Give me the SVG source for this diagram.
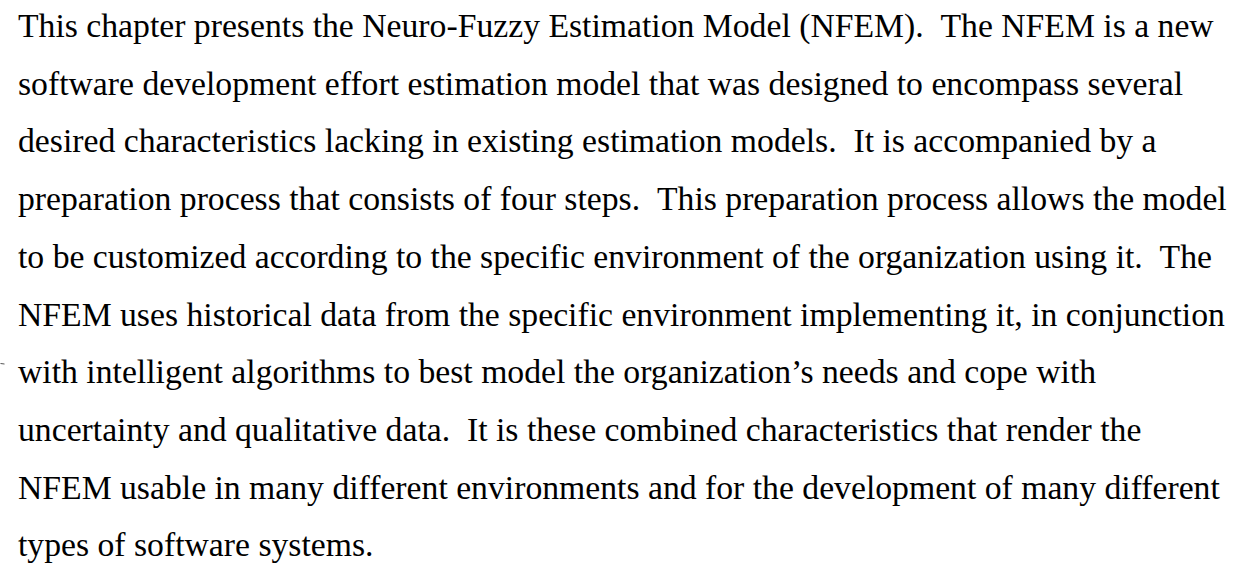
<svg xmlns="http://www.w3.org/2000/svg" width="1236" height="567" viewBox="0 0 1236 567">
  <style>
    .body { font-family: "Liberation Serif", "Times New Roman", serif; font-size: 33.7px; fill: #000; }
  </style>
  <rect width="1236" height="567" fill="#fff"/>
  <!-- paragraph set ragged-right, two spaces after each sentence -->
  <g id="paragraph" class="body">
    <text x="18" y="37">This chapter presents the Neuro-Fuzzy Estimation Model (NFEM). &#160;The NFEM is a new</text>
    <text x="18" y="94.7">software development effort estimation model that was designed to encompass several</text>
    <text x="18" y="152.4">desired characteristics lacking in existing estimation models. &#160;It is accompanied by a</text>
    <text x="18" y="210.1">preparation process that consists of four steps. &#160;This preparation process allows the model</text>
    <text x="18" y="267.8">to be customized according to the specific environment of the organization using it. &#160;The</text>
    <text x="18" y="325.5">NFEM uses historical data from the specific environment implementing it, in conjunction</text>
    <text x="18" y="383.2">with intelligent algorithms to best model the organization’s needs and cope with</text>
    <text x="18" y="440.9">uncertainty and qualitative data. &#160;It is these combined characteristics that render the</text>
    <text x="18" y="498.6">NFEM usable in many different environments and for the development of many different</text>
    <text x="18" y="556.3">types of software systems.</text>
  </g>
  <!-- small stray mark at the left margin of the seventh line -->
  <line x1="0.5" y1="363.5" x2="4.5" y2="364" stroke="#555" stroke-width="1"/>
</svg>
